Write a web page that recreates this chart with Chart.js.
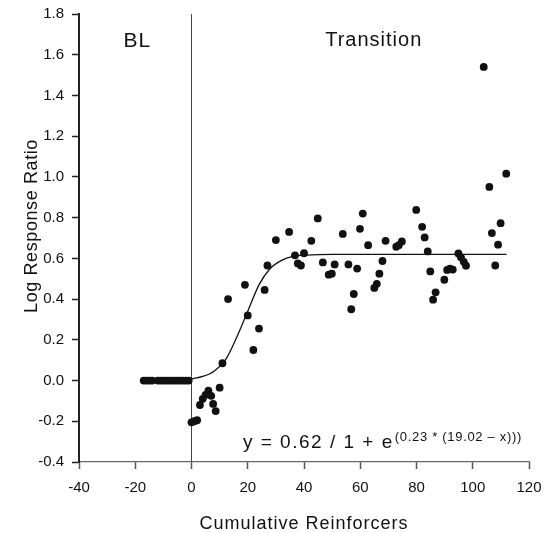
<!DOCTYPE html>
<html>
<head>
<meta charset="utf-8">
<title>Log Response Ratio</title>
<script src="https://cdn.jsdelivr.net/npm/chart.js@4.4.0/dist/chart.umd.min.js"></script>
<style>
  body { margin: 0; background: #fff; }
  canvas { display: block; }
</style>
</head>
<body>
<canvas id="chart" width="544" height="533"></canvas>
<script>
// Baseline (BL) phase
const blX = [-17, -16, -15, -14, -12, -11, -10, -9, -8, -7, -6, -5, -4, -3, -2, -1];
const blY = [0, 0, 0, 0, 0, 0, 0, 0, 0, 0, 0, 0, 0, 0, 0, 0];

// Transition phase
const trX = [0, 1, 2, 3, 4, 5, 6, 7, 7.7, 8.6, 10, 11, 13, 19, 20, 22, 24, 26, 27, 30,
             34.7, 36.8, 37.8, 38.9, 40, 42.6, 44.9, 46.7, 48.8, 49.9, 50.9, 53.8, 55.8, 56.8, 57.7, 58.9,
             59.9, 60.9, 62.8, 65, 65.9, 66.8, 67.9, 69, 72.8, 73.7, 74.8, 79.9, 82, 82.9, 84, 84.9,
             85.9, 86.8, 89.9, 90.9, 91.9, 92.9, 94.9, 95.8, 96.8, 97.6, 103.9, 105.9, 106.8, 108, 109, 109.9, 111.9];
const trY = [-0.205, -0.2, -0.195, -0.12, -0.09, -0.07, -0.05, -0.075, -0.115, -0.15, -0.035, 0.085, 0.40, 0.47, 0.32, 0.15, 0.255, 0.445, 0.565, 0.69,
             0.73, 0.615, 0.575, 0.565, 0.625, 0.686, 0.796, 0.58, 0.52, 0.525, 0.57, 0.72, 0.57, 0.35, 0.425, 0.55,
             0.745, 0.82, 0.665, 0.455, 0.475, 0.525, 0.587, 0.686, 0.657, 0.665, 0.683, 0.838, 0.755, 0.703, 0.634, 0.536,
             0.397, 0.433, 0.495, 0.543, 0.55, 0.545, 0.624, 0.605, 0.583, 0.564, 1.54, 0.951, 0.724, 0.565, 0.667, 0.773, 1.016];

// Fitted curve
const fitX = [0, 4, 8, 12, 16, 20, 24, 28, 32, 36, 40, 50, 112];
const fitY = [0.008, 0.02, 0.046, 0.10, 0.21, 0.34, 0.47, 0.55, 0.59, 0.61, 0.615, 0.62, 0.62];

// Phase change line
const phaseX = [0, 0];
const phaseY = [-0.4, 1.8];

// Tick labels
const xTicks = [-40, -20, 0, 20, 40, 60, 80, 100, 120];
const yTicks = [-0.4, -0.2, 0.0, 0.2, 0.4, 0.6, 0.8, 1.0, 1.2, 1.4, 1.6, 1.8];

const FONT = '"Liberation Sans", Arial, Helvetica, sans-serif';

function toPoints(xs, ys) {
    return xs.map((x, i) => ({ x: x, y: ys[i] }));
}

// Axis titles, phase labels and the equation
const labels = {
    id: 'labels',
    afterDraw(chart) {
        const { ctx, chartArea, scales: { x, y } } = chart;
        ctx.save();
        ctx.fillStyle = '#111';

        // axis titles
        ctx.textAlign = 'center';
        ctx.textBaseline = 'alphabetic';
        ctx.font = '18px ' + FONT;
        ctx.letterSpacing = '1px';
        ctx.fillText('Cumulative Reinforcers', (chartArea.left + chartArea.right) / 2, 529);
        ctx.save();
        ctx.translate(36.5, 226);
        ctx.rotate(-Math.PI / 2);
        ctx.letterSpacing = '0.6px';
        ctx.fillText('Log Response Ratio', 0, 0);
        ctx.restore();

        // phase labels
        ctx.textBaseline = 'middle';
        ctx.letterSpacing = '1px';
        ctx.font = '21px ' + FONT;
        ctx.fillText('BL', x.getPixelForValue(-19.3), y.getPixelForValue(1.665));
        ctx.font = '20px ' + FONT;
        ctx.fillText('Transition', x.getPixelForValue(64.8), y.getPixelForValue(1.67));

        // equation
        ctx.textAlign = 'left';
        ctx.textBaseline = 'alphabetic';
        ctx.font = '19px ' + FONT;
        ctx.letterSpacing = '1.5px';
        const ex = x.getPixelForValue(18.3);
        const ey = y.getPixelForValue(-0.329);
        const main = 'y = 0.62 / 1 + e';
        ctx.fillText(main, ex, ey);
        const w = ctx.measureText(main).width;
        ctx.font = '13px ' + FONT;
        ctx.letterSpacing = '0.7px';
        ctx.fillText('(0.23 * (19.02 \u2013 x)))', ex + w + 1, ey - 6.5);
        ctx.restore();
    }
};

new Chart(document.getElementById('chart'), {
    type: 'scatter',
    data: {
        datasets: [
            {
                label: 'BL',
                data: toPoints(blX, blY),
                pointRadius: 3.9,
                pointBackgroundColor: '#111',
                pointBorderWidth: 0,
                order: 0
            },
            {
                label: 'Transition',
                data: toPoints(trX, trY),
                pointRadius: 3.9,
                pointBackgroundColor: '#111',
                pointBorderWidth: 0,
                order: 0
            },
            {
                label: 'Fit',
                data: toPoints(fitX, fitY),
                showLine: true,
                pointRadius: 0,
                borderColor: '#111',
                borderWidth: 1.3,
                cubicInterpolationMode: 'monotone',
                order: 1
            },
            {
                label: 'Phase',
                data: toPoints(phaseX, phaseY),
                showLine: true,
                pointRadius: 0,
                borderColor: '#444',
                borderWidth: 1,
                order: 2
            }
        ]
    },
    options: {
        responsive: false,
        animation: false,
        events: [],
        layout: { padding: { left: 0, right: 15, top: 14, bottom: 0 } },
        plugins: {
            legend: { display: false },
            tooltip: { enabled: false }
        },
        scales: {
            x: {
                type: 'linear',
                min: -40,
                max: 120,
                afterBuildTicks: scale => { scale.ticks = xTicks.map(v => ({ value: v })); },
                afterFit: scale => {
                    scale.height = 71;
                    scale.paddingLeft = 0;
                    scale.paddingRight = 0; // keep the plot as wide as the original
                },
                grid: { drawOnChartArea: false, drawTicks: true, tickLength: 7, tickColor: '#555', tickWidth: 1.5 },
                border: { color: '#666', width: 1.2 },
                ticks: { color: '#111', padding: 10, font: { family: FONT, size: 15 } }
            },
            y: {
                type: 'linear',
                min: -0.4,
                max: 1.8,
                afterBuildTicks: scale => { scale.ticks = yTicks.map(v => ({ value: v })); },
                afterFit: scale => {
                    scale.width = 79;
                    scale.paddingTop = 0;
                    scale.paddingBottom = 0;
                },
                grid: { drawOnChartArea: false, drawTicks: true, tickLength: 7, tickColor: '#222', tickWidth: 1.5 },
                border: { color: '#222', width: 2 },
                ticks: {
                    color: '#111',
                    padding: 8,
                    font: { family: FONT, size: 15 },
                    callback: v => v.toFixed(1)
                }
            }
        }
    },
    plugins: [labels]
});
</script>
</body>
</html>
